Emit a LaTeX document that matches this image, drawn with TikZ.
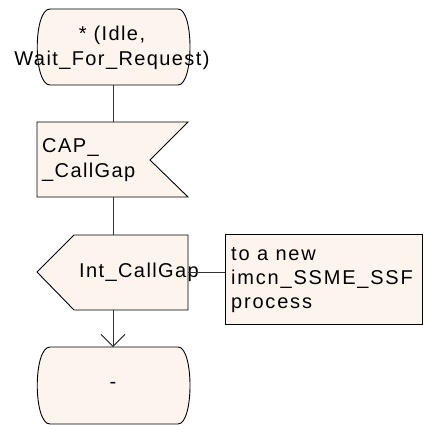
\documentclass[tikz,border=0pt]{standalone}
\usepackage{fontspec}
\setmainfont{Liberation Sans}[LetterSpace=7]
\usetikzlibrary{arrows.meta}
\definecolor{sdlfill}{RGB}{253,245,237}
\tikzset{
  shp/.style={draw=black, fill=sdlfill, line width=0.9pt, line join=miter},
  conn/.style={draw=black!80, line width=0.9pt},
  txt/.style={inner sep=0pt, font=\fontsize{20}{25}\selectfont},
}
\begin{document}
\begin{tikzpicture}[x=1pt,y=-1pt]
\fill[white] (0,0) rectangle (424,425);
\useasboundingbox (0,0) rectangle (424,425);
% top state
\path[shp] (50,9) -- (178,9) .. controls (194,9) and (194,85) .. (178,85) -- (50,85) .. controls (33,85) and (33,9) .. (50,9) -- cycle;
\coordinate (s1b) at (113,85);
\node[txt, align=center] (s1) at (112,48) {* (Idle,\\Wait\_For\_Request)};
% input signal
\path[shp] (37,122) -- (188,122) -- (150,160) -- (188,197) -- (37,197) -- cycle;
\coordinate (in1t) at (113,122);
\coordinate (in1b) at (113,197);
\node[txt, align=left, anchor=west] (in1) at (42,160) {CAP\_\\\_CallGap};
% output signal
\path[shp] (74,235) -- (188,235) -- (188,310) -- (74,310) -- (37,272) -- cycle;
\coordinate (out1t) at (113,235);
\coordinate (out1b) at (113,310);
\coordinate (out1r) at (188,272);
\node[txt, anchor=west] (out1) at (79,272) {Int\_CallGap};
% comment
\path[shp] (225,234) rectangle (422,324);
\coordinate (cml) at (225,272);
\node[txt, align=left, anchor=west, font=\fontsize{20}{24}\selectfont\addfontfeature{LetterSpace=9}] (cm) at (231,280) {to a new\\imcn\_SSME\_SSF\\process};
% bottom state
\path[shp] (50,347) -- (178,347) .. controls (194,347) and (194,424) .. (178,424) -- (50,424) .. controls (33,424) and (33,347) .. (50,347) -- cycle;
\coordinate (s2t) at (113,347);
\node[txt] (s2) at (113,385) {-};
% connectors
\draw[conn] (s1b) -- (in1t);
\draw[conn] (in1b) -- (out1t);
\draw[conn] (out1r) -- (cml);
\draw[conn, -{Straight Barb[length=12pt,width=24pt,line width=0.9pt]}] (out1b) -- (s2t);
\end{tikzpicture}
\end{document}
